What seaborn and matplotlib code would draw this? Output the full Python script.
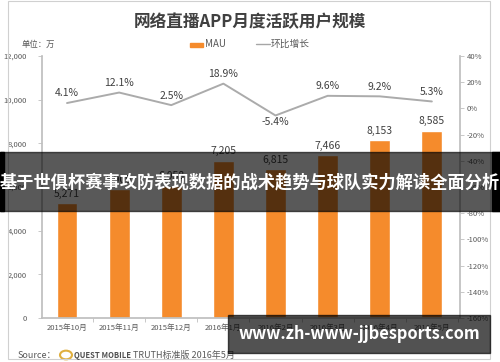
import matplotlib
matplotlib.use("Agg")
import matplotlib.pyplot as plt
import seaborn as sns
import numpy as np
import pandas as pd
from matplotlib.patches import Rectangle

sns.set_theme(style="white")
plt.rcParams['font.family'] = ['Noto Sans CJK SC', 'DejaVu Sans']

months = ["2015年10月", "2015年11月", "2015年12月", "2016年1月",
          "2016年2月", "2016年3月", "2016年4月", "2016年5月"]
mau = [5271, 5909, 6058, 7205, 6815, 7466, 8153, 8585]
growth = [4.1, 12.1, 2.5, 18.9, -5.4, 9.6, 9.2, 5.3]
left_ticks = [0, 2000, 4000, 6000, 8000, 10000, 12000]
right_ticks = [-160, -140, -120, -100, -80, -60, -40, -20, 0, 20, 40]

W, H = 500, 362
fig = plt.figure(figsize=(W / 100, H / 100), dpi=100)
fig.patch.set_facecolor("white")

ax = fig.add_axes([42 / W, 1 - 318 / H, 418 / W, 262 / H])
df = pd.DataFrame({"month": months, "mau": mau})
bar_color = "#F58B2C"
sns.barplot(data=df, x="month", y="mau", ax=ax, color=bar_color, width=0.4,
            saturation=1)
ax.set_xlim(-0.48, 7.54)
ax.set_ylim(0, 12000)
ax.set_yticks(left_ticks)
ax.set_yticklabels([f"{v:,}" for v in left_ticks])
ax.set_xlabel("")
ax.set_ylabel("")
ax.set_xticks(range(len(months)))
ax.set_xticklabels(months)
axis_gray = "#BFBFBF"
text_gray = "#595959"
for s in ["top", "right"]:
    ax.spines[s].set_visible(False)
ax.spines["left"].set_color(axis_gray)
ax.spines["bottom"].set_color(axis_gray)
ax.tick_params(axis="y", labelsize=5.5, colors=axis_gray, labelcolor=text_gray,
               length=3, width=0.6, left=True, pad=8)
ax.tick_params(axis="x", labelsize=5.5, colors=axis_gray, labelcolor=text_gray,
               length=0, pad=4)
ax.set_xticks(np.arange(-0.5, 8, 1), minor=True)
ax.tick_params(axis="x", which="minor", length=3, width=0.6, colors=axis_gray, bottom=True)

for i, v in enumerate(mau):
    ax.text(i, v + 200, f"{v:,}", ha="center", va="bottom", fontsize=7.5,
            color="#404040")

ax2 = ax.twinx()
ax2.set_ylim(-160, 40)
ax2.set_yticks(right_ticks)
ax2.set_yticklabels([f"{v}%" for v in right_ticks])
x_pos = np.arange(len(months))
sns.lineplot(x=x_pos, y=growth, ax=ax2, color="#ABABAB", linewidth=1.4)
ax2.set_xlim(-0.48, 7.54)
for s in ["top", "left", "bottom"]:
    ax2.spines[s].set_visible(False)
ax2.spines["right"].set_color(axis_gray)
ax2.tick_params(axis="y", labelsize=5.5, colors=axis_gray, labelcolor=text_gray,
                length=3, width=0.6, right=True, pad=2)
for i, g in enumerate(growth):
    if g < 0:
        ax2.text(i, g - 1.5, f"{g}%", ha="center", va="top", fontsize=7.5,
                 color="#404040")
    else:
        ax2.text(i, g + 3.5, f"{g}%", ha="center", va="bottom", fontsize=7.5,
                 color="#404040")

# title, unit, legend
fig.text(250 / W, 1 - 22 / H, "网络直播APP月度活跃用户规模", ha="center", va="center",
         fontsize=12, fontweight="bold", color="#404040")
fig.text(22 / W, 1 - 44 / H, "单位：万", ha="left", va="center", fontsize=6,
         color=text_gray)
fig.patches.append(Rectangle((190 / W, 1 - 46.5 / H), 13 / W, 4 / H,
                             transform=fig.transFigure, color=bar_color))
fig.text(205 / W, 1 - 44 / H, "MAU", ha="left", va="center", fontsize=7,
         color=text_gray)
fig.lines.append(plt.Line2D([256 / W, 270 / W], [1 - 44 / H, 1 - 44 / H],
                            transform=fig.transFigure, color="#A6A6A6", lw=1))
fig.text(271 / W, 1 - 44 / H, "环比增长", ha="left", va="center", fontsize=7,
         color=text_gray)

# source line
fig.text(18 / W, 1 - 355 / H, "Source：", ha="left", va="center", fontsize=6.5,
         color=text_gray)
fig.patches.append(plt.Circle((66 / W, 1 - 355 / H), 0.012,
                              transform=fig.transFigure, fill=False,
                              ec="#E0B040", lw=1.5))
fig.text(74 / W, 1 - 355 / H, "QUEST MOBILE", ha="left", va="center",
         fontsize=5.5, fontweight="bold", color="#505050")
fig.text(133 / W, 1 - 355 / H, "TRUTH标准版 2016年5月", ha="left", va="center",
         fontsize=6.5, color=text_gray)

# frame
fig.patches.append(Rectangle((8 / W, 1 - 359 / H), 482 / W, 358 / H,
                             transform=fig.transFigure, fill=False,
                             ec="#D0D0D0", lw=0.8))

# overlay banner
fig.patches.append(Rectangle((0, 1 - 211 / H), 1, 59 / H,
                             transform=fig.transFigure, color="black",
                             alpha=0.65, zorder=10))
fig.patches.append(Rectangle((0, 1 - 211 / H), 4 / W, 59 / H,
                             transform=fig.transFigure, color="black",
                             zorder=10))
fig.patches.append(Rectangle((492 / W, 1 - 211 / H), 8 / W, 59 / H,
                             transform=fig.transFigure, color="black",
                             zorder=10))
fig.text(250 / W, 1 - 182 / H, "基于世俱杯赛事攻防表现数据的战术趋势与球队实力解读全面分析",
         ha="center", va="center", fontsize=12.4, fontweight="bold",
         color="white", zorder=11)

# bottom-right watermark box
fig.patches.append(Rectangle((228 / W, 1 - 353 / H), 262 / W, 38 / H,
                             transform=fig.transFigure, color="black",
                             alpha=0.68, zorder=10))
fig.text(359 / W, 1 - 334 / H, "www.zh-www-jjbesports.com", ha="center",
         va="center", fontsize=11.8, fontweight="bold", color="white",
         zorder=11)

fig.savefig("out.png", dpi=100)
